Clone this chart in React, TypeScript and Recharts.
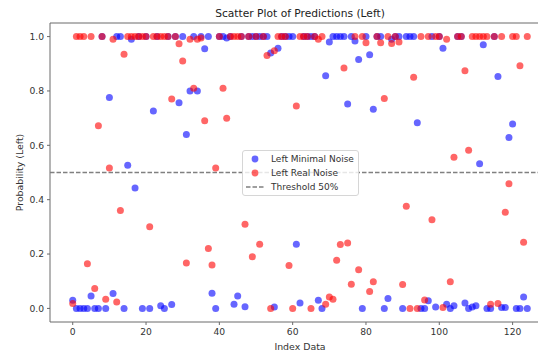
import React from "react";
import {
  ScatterChart,
  Scatter,
  XAxis,
  YAxis,
  ReferenceLine,
  ReferenceArea,
  Legend,
} from "recharts";

// probabilities, one per index (0..124)
const minimalNoise = [
  0.03, 0, 0, 0, 0, 0.046, 0, 0, 1.0, 0,
  0.776, 0.055, 1.0, 1.0, 0, 0.527, 0.99, 0.443, 1.0, 0,
  1.0, 0, 0.726, 1.0, 0.01, 0, 1.0, 0.014, 1.0, 0.757,
  1.0, 0.64, 0.8, 1.0, 0.8, 1.0, 0.955, 1.0, 0.056, 0,
  1.0, 1.0, 0.995, 1.0, 0.015, 0.046, 1.0, 0.006, 1.0, 1.0,
  1.0, 1.0, 1.0, 1.0, 0.94, 0.005, 0.957, 1.0, 1.0, 1.0,
  1.0, 0.236, 0.02, 1.0, 1.0, 1.0, 1.0, 0.03, 0, 0.856,
  0.98, 1.0, 1.0, 1.0, 1.0, 0.752, 1.0, 0.984, 0.916, 0,
  1.0, 0.933, 0.733, 1.0, 1.0, 0, 0.036, 0.99, 1.0, 1.0,
  0, 1.0, 1.0, 1.0, 0.683, 0, 0, 0.028, 1.0, 0.005,
  1.0, 0.957, 0.015, 0, 0.01, 1.0, 1.0, 0.02, 0, 0.005,
  0.01, 0.532, 0.97, 0, 0, 1.0, 0.853, 0.003, 0.003, 0.629,
  0.678, 0, 0, 0.042, 0,
];

const realNoise = [
  0.018, 1.0, 1.0, 1.0, 0.164, 1.0, 0.073, 0.672, 1.0, 0.034,
  0.517, 0.99, 0.024, 0.36, 0.935, 1.0, 1.0, 1.0, 1.0, 1.0,
  1.0, 0.3, 1.0, 1.0, 1.0, 1.0, 1.0, 0.77, 1.0, 0.974,
  0.91, 0.167, 0.99, 0.81, 0.99, 0.995, 0.69, 0.22, 0.16, 0.517,
  1.0, 0.81, 0.7, 1.0, 1.0, 1.0, 1.0, 0.31, 1.0, 0.19,
  1.0, 0.236, 1.0, 0.93, 0, 0.948, 1.0, 1.0, 1.0, 0.158,
  0, 0.745, 1.0, 1.0, 1.0, 0, 1.0, 0.99, 1.0, 0.015,
  0.042, 0.034, 0.177, 0.235, 0.884, 0.241, 0.089, 1.0, 0.142, 1.0,
  0.977, 0.062, 0.098, 1.0, 0.977, 0.772, 1.0, 0.975, 1.0, 0.98,
  0.088, 0.376, 0, 0.85, 0, 1.0, 0.031, 1.0, 0.326, 1.0,
  1.0, 0.003, 0.99, 0.098, 0.556, 1.0, 1.0, 0.874, 0.582, 1.0,
  1.0, 1.0, 1.0, 1.0, 0.015, 1.0, 0.018, 1.0, 0.354, 0.459,
  1.0, 1.0, 0.893, 0.243, 1.0,
];

const xTicks = [0, 20, 40, 60, 80, 100, 120];
const yTicks = [0, 0.2, 0.4, 0.6, 0.8, 1.0];
const threshold = 0.5;

const FONT = "'DejaVu Sans', sans-serif";
const BLUE = "#0000ff";
const RED = "#ff0000";
const SPINE = "#6a6a6a";
const TEXT = "#333";

const toPoints = (values: number[]) =>
  values.map((v, i) => ({ idx: i, prob: v }));

const dot = (color: string) => (props: any) =>
  <circle cx={props.cx} cy={props.cy} r={3.5} fill={color} fillOpacity={0.6} />;

const LegendBox = () => {
  const row: React.CSSProperties = {
    display: "flex",
    alignItems: "center",
    height: 14,
  };
  const mark: React.CSSProperties = {
    width: 24,
    display: "flex",
    justifyContent: "center",
    marginRight: 4,
  };
  return (
    <div
      style={{
        border: "1px solid #d6d6d6",
        borderRadius: 3,
        background: "rgba(255,255,255,0.8)",
        padding: "1px 4px 1px 0",
        fontFamily: FONT,
        fontSize: 9,
        color: TEXT,
        whiteSpace: "nowrap",
      }}
    >
      <div style={row}>
        <span style={mark}>
          <svg width={8} height={8}>
            <circle cx={4} cy={4} r={3.4} fill={BLUE} fillOpacity={0.6} />
          </svg>
        </span>
        Left Minimal Noise
      </div>
      <div style={row}>
        <span style={mark}>
          <svg width={8} height={8}>
            <circle cx={4} cy={4} r={3.4} fill={RED} fillOpacity={0.6} />
          </svg>
        </span>
        Left Real Noise
      </div>
      <div style={row}>
        <span style={mark}>
          <svg width={18} height={4}>
            <line x1={0} y1={2} x2={18} y2={2} stroke="#808080" strokeWidth={1.3} strokeDasharray="4.5 2" />
          </svg>
        </span>
        Threshold 50%
      </div>
    </div>
  );
};

export default function App() {
  return (
    <div
      style={{
        position: "fixed",
        left: 0,
        top: 0,
        width: 538,
        height: 351,
        overflow: "hidden",
        background: "#fff",
        fontFamily: FONT,
      }}
    >
      <div
        style={{
          position: "absolute",
          left: 0,
          top: 7,
          width: 600,
          textAlign: "center",
          fontSize: 10.7,
          lineHeight: "14px",
          color: "#222",
          zIndex: 2,
        }}
      >
        Scatter Plot of Predictions (Left)
      </div>
      <ScatterChart
        width={560}
        height={351}
        margin={{ top: 23, right: 10, bottom: 0, left: 0 }}
      >
        <XAxis
          type="number"
          dataKey="idx"
          domain={[-6.2, 130.2]}
          ticks={xTicks}
          allowDataOverflow
          height={29}
          tickSize={3}
          tickMargin={3}
          axisLine={false}
          tickLine={{ stroke: SPINE }}
          tick={{ fontSize: 9.2, fill: TEXT, fontFamily: FONT }}
          label={{
            value: "Index Data",
            position: "insideBottom",
            offset: 1,
            fill: TEXT,
            stroke: "none",
            style: { fontSize: 9.4, fill: TEXT, stroke: "none", fontFamily: FONT },
          }}
        />
        <YAxis
          type="number"
          dataKey="prob"
          domain={[-0.05, 1.05]}
          ticks={yTicks}
          allowDataOverflow
          width={50}
          tickSize={3}
          tickMargin={3}
          axisLine={false}
          tickLine={{ stroke: SPINE }}
          tickFormatter={(v: number) => v.toFixed(1)}
          tick={{ fontSize: 9.2, fill: TEXT, fontFamily: FONT }}
          label={{
            value: "Probability (Left)",
            angle: -90,
            position: "insideLeft",
            offset: 20,
            fill: TEXT,
            stroke: "none",
            style: { textAnchor: "middle", fontSize: 9.4, fill: TEXT, stroke: "none", fontFamily: FONT },
          }}
        />
        <ReferenceArea
          x1={-6.2}
          x2={130.2}
          y1={-0.05}
          y2={1.05}
          fill="none"
          stroke={SPINE}
          strokeWidth={1}
          fillOpacity={0}
          strokeOpacity={1}
        />
        <Scatter
          name="Left Minimal Noise"
          data={toPoints(minimalNoise)}
          shape={dot(BLUE)}
          isAnimationActive={false}
        />
        <Scatter
          name="Left Real Noise"
          data={toPoints(realNoise)}
          shape={dot(RED)}
          isAnimationActive={false}
        />
        <ReferenceLine
          y={threshold}
          stroke="#808080"
          strokeWidth={1.3}
          strokeDasharray="4.5 2"
        />
        <Legend
          layout="vertical"
          align="center"
          verticalAlign="middle"
          content={() => <LegendBox />}
          wrapperStyle={{ left: 242, top: 150, width: "auto" }}
        />
      </ScatterChart>
    </div>
  );
}
